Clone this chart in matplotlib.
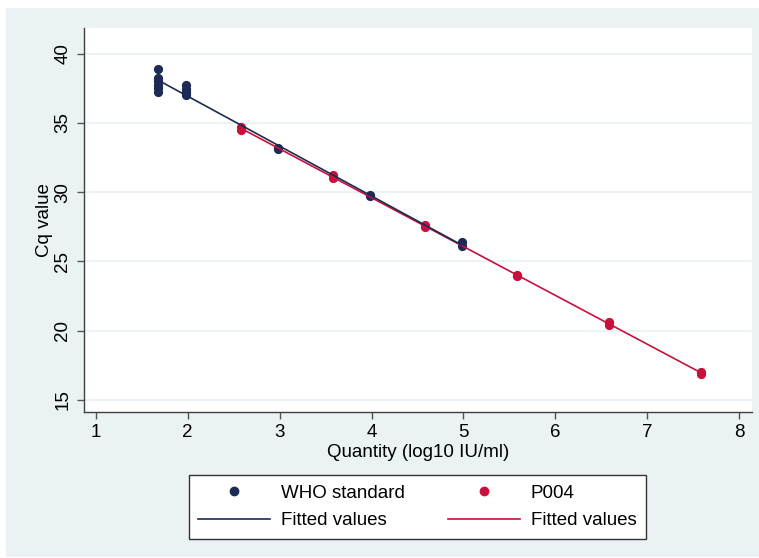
import numpy as np
import matplotlib
matplotlib.use("Agg")
import matplotlib.pyplot as plt
from matplotlib.patches import Rectangle
from matplotlib.lines import Line2D

plt.rcParams['font.family'] = ['Liberation Sans', 'DejaVu Sans']

# WHO standard data (log10 IU/ml, Cq)
who_x = [1.68, 1.68, 1.68, 1.68, 1.68, 1.68,
         1.98, 1.98, 1.98, 1.98,
         2.98, 2.98, 3.98, 3.98, 4.98, 4.98]
who_y = [38.9, 38.2, 38.0, 37.7, 37.5, 37.2,
         37.7, 37.45, 37.2, 37.0,
         33.2, 33.1, 29.8, 29.7, 26.4, 26.1]

# P004 data
p_x = [2.58, 2.58, 3.58, 3.58, 4.58, 4.58, 5.58, 5.58, 6.58, 6.58, 7.58, 7.58]
p_y = [34.7, 34.45, 31.25, 31.0, 27.6, 27.5, 24.05, 23.95, 20.6, 20.45, 17.05, 16.9]

x_ticks = [1, 2, 3, 4, 5, 6, 7, 8]
y_ticks = [15, 20, 25, 30, 35, 40]

navy = '#1C2A55'
red = '#C8103C'
bg = '#EAF2F3'

W, H = 759, 558
fig = plt.figure(figsize=(W / 100, H / 100), dpi=100, facecolor='white')
fig.patches.append(Rectangle((6 / W, 1 / H), 1 - 6 / W, (557 - 8) / H,
                             transform=fig.transFigure, facecolor=bg,
                             edgecolor='none', zorder=-10))

ax = fig.add_axes([84 / W, (H - 411.7) / H, (752 - 84) / W, (411.7 - 28) / H])
ax.set_facecolor('white')
ax.set_zorder(1)

# fitted lines
wx = np.array(who_x); wy = np.array(who_y)
px_ = np.array(p_x); py_ = np.array(p_y)
cw = np.polyfit(wx, wy, 1)
cp = np.polyfit(px_, py_, 1)
wline_x = np.array([wx.min(), wx.max()])
pline_x = np.array([px_.min(), px_.max()])

ax.scatter(wx, wy, s=44, color=navy, zorder=3, linewidths=0)
ax.scatter(px_, py_, s=44, color=red, zorder=3, linewidths=0)
ax.plot(pline_x, np.polyval(cp, pline_x), color=red, lw=1.2, zorder=4)
ax.plot(wline_x, np.polyval(cw, wline_x), color=navy, lw=1.2, zorder=4)

ax.set_xlim(0.873, 8.138)
ax.set_ylim(14.16, 41.84)
ax.set_xticks(x_ticks)
ax.set_yticks(y_ticks)
ax.yaxis.grid(True, color=bg, lw=1.3)
ax.set_axisbelow(True)
for s in ['top', 'right']:
    ax.spines[s].set_visible(False)
for s in ['left', 'bottom']:
    ax.spines[s].set_color('#404040')
    ax.spines[s].set_linewidth(1.0)
ax.tick_params(axis='both', direction='out', length=5, width=1, color='#555555',
               labelsize=13.5, labelcolor='black', pad=4)
for lab in ax.get_yticklabels():
    lab.set_rotation(90)
    lab.set_va('center')
ax.set_xlabel('Quantity (log10 IU/ml)', fontsize=13.5, labelpad=2)
ax.set_ylabel('Cq value', fontsize=13.5, labelpad=1)

handles = [
    Line2D([], [], ls='none', marker='o', color=navy, markersize=6),
    Line2D([], [], color=navy, lw=1.2),
    Line2D([], [], ls='none', marker='o', color=red, markersize=6),
    Line2D([], [], color=red, lw=1.2),
]
labels = ['WHO standard', 'Fitted values', 'P004', 'Fitted values']
leg = fig.legend(handles, labels, ncol=2, loc='center',
                 bbox_to_anchor=(189 / W, (H - 538) / H, (646 - 189) / W, 62 / H),
                 mode='expand', borderaxespad=0, fontsize=13.5,
                 handlelength=3.8, handletextpad=0.6, labelspacing=0.55,
                 columnspacing=1.0, borderpad=0.5, fancybox=False,
                 edgecolor='#333333', framealpha=1)
leg.get_frame().set_linewidth(1.0)

fig.savefig('out.png', dpi=100, facecolor='white')
